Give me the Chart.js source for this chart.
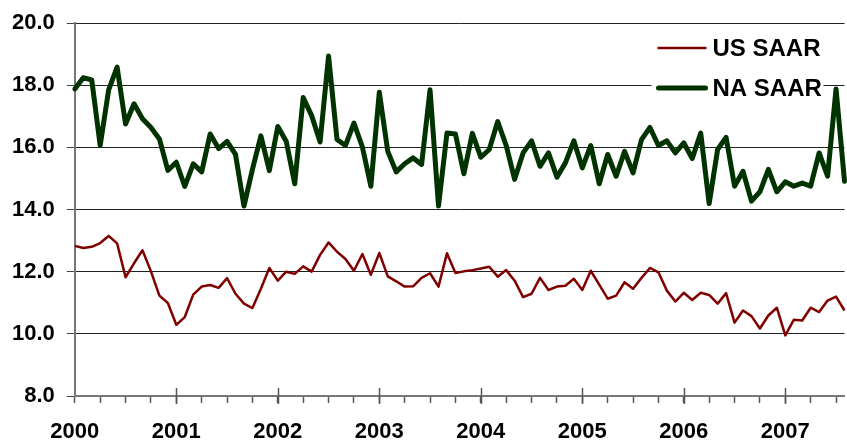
<!DOCTYPE html>
<html>
<head>
<meta charset="utf-8">
<title>US / NA SAAR</title>
<script src="https://cdn.jsdelivr.net/npm/chart.js@4.4.1/dist/chart.umd.min.js"></script>
<style>
    html, body { margin: 0; padding: 0; background: #ffffff; }
    #wrap { position: relative; width: 847px; height: 442px; }
</style>
</head>
<body>
<div id="wrap"><canvas id="chart"></canvas></div>
<script>

const years = ["2000", "2001", "2002", "2003", "2004", "2005", "2006", "2007"];
const monthsShown = 92;

const usSaar = [
    12.83, 12.76, 12.80, 12.92, 13.15, 12.91, 11.82, 12.27, 12.69, 12.01, 11.23, 10.99,
    10.29, 10.54, 11.26, 11.52, 11.57, 11.48, 11.79, 11.29, 10.97, 10.83, 11.45, 12.12,
    11.71, 12.00, 11.93, 12.17, 12.00, 12.54, 12.94, 12.64, 12.41, 12.03, 12.57, 11.90,
    12.60, 11.85, 11.69, 11.52, 11.53, 11.80, 11.95, 11.52, 12.59, 11.96, 12.01, 12.05,
    12.10, 12.16, 11.84, 12.05, 11.71, 11.18, 11.29, 11.80, 11.41, 11.52, 11.55, 11.77,
    11.41, 12.03, 11.58, 11.13, 11.23, 11.66, 11.45, 11.80, 12.12, 11.98, 11.39, 11.04,
    11.32, 11.09, 11.32, 11.25, 10.97, 11.31, 10.36, 10.75, 10.57, 10.17, 10.59, 10.84,
    9.95, 10.45, 10.43, 10.84, 10.70, 11.07, 11.20, 10.75
];

const naSaar = [
    17.88, 18.24, 18.17, 16.06, 17.85, 18.58, 16.75, 17.40, 16.92, 16.64, 16.27, 15.26,
    15.52, 14.74, 15.47, 15.21, 16.43, 15.96, 16.19, 15.77, 14.11, 15.29, 16.37, 15.25,
    16.67, 16.19, 14.83, 17.60, 17.02, 16.17, 18.94, 16.25, 16.06, 16.78, 16.01, 14.75,
    17.77, 15.87, 15.21, 15.47, 15.66, 15.45, 17.85, 14.11, 16.46, 16.43, 15.15, 16.45,
    15.68, 15.93, 16.83, 16.06, 14.97, 15.82, 16.21, 15.39, 15.82, 15.04, 15.50, 16.21,
    15.34, 16.06, 14.83, 15.77, 15.07, 15.87, 15.18, 16.25, 16.64, 16.06, 16.21, 15.82,
    16.14, 15.64, 16.46, 14.19, 15.93, 16.32, 14.75, 15.23, 14.27, 14.57, 15.29, 14.57,
    14.89, 14.75, 14.85, 14.75, 15.82, 15.07, 17.88, 14.91
];

const yTicks = [8, 10, 12, 14, 16, 18, 20];

// month labels, e.g. "2003-07"
const monthLabels = [];
for (const y of years)
{
    for (let m = 1; m <= 12; m++)
    {
        if (monthLabels.length < monthsShown)
        {
            monthLabels.push(y + "-" + String(m).padStart(2, "0"));
        }
    }
}

const FONT = "Arial, 'Liberation Sans', Helvetica, sans-serif";
const US_COLOR = "#800000";
const NA_COLOR = "#003300";

// longer year ticks crossing the x axis
const yearTicks = {
    id: "yearTicks",
    afterDraw(chart)
    {
        const ctx = chart.ctx;
        const xs = chart.scales.x;
        const bottom = chart.chartArea.bottom;
        ctx.save();
        ctx.strokeStyle = "#555555";
        ctx.lineWidth = 1.5;
        monthLabels.forEach((lab, i) =>
        {
            if (lab.endsWith("-01") && i > 0)
            {
                const x = Math.round(xs.getPixelForValue(i)) + 0.5;
                ctx.beginPath();
                ctx.moveTo(x, bottom - 8);
                ctx.lineTo(x, bottom + 8);
                ctx.stroke();
            }
        });
        ctx.restore();
    }
};

// legend box inside the plot, top right
const boxLegend = {
    id: "boxLegend",
    beforeDatasetsDraw(chart)
    {
        const ctx = chart.ctx;
        const area = chart.chartArea;
        const left = area.right - 193;
        const top = area.top + 8;
        ctx.save();
        ctx.fillStyle = "#ffffff";
        ctx.fillRect(left, top, 172, 76);
        chart.data.datasets.forEach((ds, i) =>
        {
            const y = top + 17 + i * 40;
            ctx.strokeStyle = ds.borderColor;
            ctx.lineWidth = ds.borderWidth;
            ctx.lineCap = "round";
            ctx.beginPath();
            ctx.moveTo(left + 7, y);
            ctx.lineTo(left + 54, y);
            ctx.stroke();
            ctx.fillStyle = "#000000";
            ctx.font = "bold 24px " + FONT;
            ctx.textBaseline = "middle";
            ctx.textAlign = "left";
            ctx.fillText(ds.label, left + 61, y + 1);
        });
        ctx.restore();
    }
};

function drawChart(elem)
{
    try
    {
        const config = {
            type: "line",
            data: {
                labels: monthLabels,
                datasets: [
                    {
                        label: "US SAAR",
                        data: usSaar,
                        borderColor: US_COLOR,
                        backgroundColor: US_COLOR,
                        borderWidth: 2.5,
                        pointRadius: 0,
                        tension: 0,
                        borderJoinStyle: "round"
                    },
                    {
                        label: "NA SAAR",
                        data: naSaar,
                        borderColor: NA_COLOR,
                        backgroundColor: NA_COLOR,
                        borderWidth: 5,
                        pointRadius: 0,
                        tension: 0,
                        borderJoinStyle: "round",
                        borderCapStyle: "round"
                    }
                ]
            },
            options: {
                responsive: true,
                maintainAspectRatio: false,
                animation: false,
                devicePixelRatio: 1,
                layout: { padding: { left: 0, right: 1, top: 10, bottom: 1 } },
                plugins: {
                    legend: { display: false },
                    tooltip: { enabled: false }
                },
                scales: {
                    x: {
                        type: "category",
                        offset: false,
                        border: { display: true, color: "#777777", width: 2 },
                        grid: {
                            drawOnChartArea: false,
                            drawTicks: true,
                            tickLength: 7,
                            tickWidth: 1.5,
                            tickColor: (c) => (c.index % 3 === 0 ? "#555555" : "rgba(0,0,0,0)")
                        },
                        ticks: {
                            autoSkip: false,
                            maxRotation: 0,
                            minRotation: 0,
                            padding: 18,
                            color: "#000000",
                            font: { family: FONT, size: 22, weight: "bold", lineHeight: 1 },
                            callback: function (val, idx)
                            {
                                const lab = monthLabels[idx];
                                return lab.endsWith("-01") ? lab.slice(0, 4) : "";
                            }
                        },
                        afterFit: (axis) =>
                        {
                            axis.height = 45;
                            axis.paddingLeft = 0;
                            axis.paddingRight = 0;
                        }
                    },
                    y: {
                        min: 8,
                        max: 20,
                        afterBuildTicks: (axis) => { axis.ticks = yTicks.map(v => ({ value: v })); },
                        border: { display: true, color: "#777777", width: 2 },
                        grid: {
                            color: "#222222",
                            lineWidth: 1,
                            tickLength: 8,
                            tickColor: "#444444"
                        },
                        ticks: {
                            padding: 12,
                            color: "#000000",
                            font: { family: FONT, size: 22, weight: "bold", lineHeight: 1 },
                            callback: (v) => Number(v).toFixed(1)
                        }
                    }
                }
            },
            plugins: [boxLegend, yearTicks]
        };

        const myChart = new Chart(elem, config);
        myChart.update();
        return true;
    }
    catch (e)
    {
        console.error(e.message);
    }
    return false;
}

drawChart(document.getElementById("chart"));
</script>
</body>
</html>
